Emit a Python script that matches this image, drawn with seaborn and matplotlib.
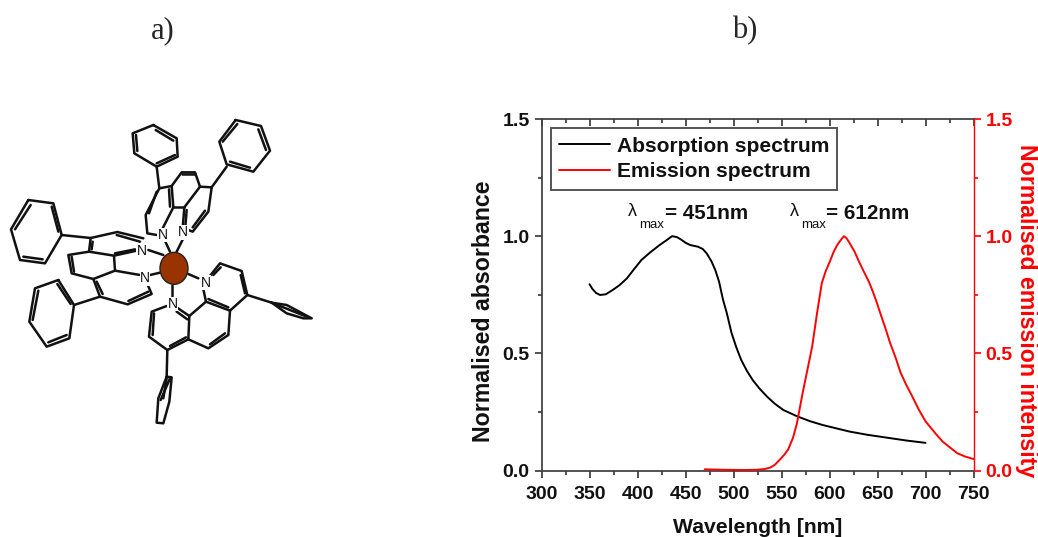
import matplotlib
matplotlib.use("Agg")
import matplotlib.pyplot as plt
from matplotlib.patches import Ellipse
from matplotlib.ticker import MultipleLocator
import pandas as pd
import seaborn as sns

abs_wave = [350, 353, 357, 361, 367, 374, 381, 389, 396, 404, 413, 423, 430, 436, 441, 446, 450, 455, 463, 468, 472,
            477, 481, 485, 489, 493, 498, 503, 508, 514, 520, 527, 535, 543, 552, 567, 580, 593, 607, 621, 640,
            660, 680, 700]
abs_val = [0.795, 0.775, 0.757, 0.749, 0.752, 0.77, 0.79, 0.82, 0.857, 0.898, 0.93, 0.962, 0.982, 1.0, 0.996, 0.984,
           0.972, 0.962, 0.955, 0.945, 0.927, 0.893, 0.856, 0.805, 0.73, 0.672, 0.586, 0.525, 0.472, 0.425, 0.386,
           0.35, 0.315, 0.285, 0.258, 0.23, 0.21, 0.194, 0.18, 0.166, 0.152, 0.14, 0.128, 0.118]
em_wave = [470, 490, 510, 524, 532, 538, 543, 548, 553, 557, 562, 566, 572, 577, 582, 587, 592, 596, 601, 604, 608,
           612, 615, 618, 621, 626, 630, 635, 641, 645, 649, 653, 658, 663, 669, 674, 680, 686, 693, 700, 705,
           711, 718, 725, 733, 741, 750]
em_val = [0.005, 0.003, 0.002, 0.003, 0.006, 0.012, 0.024, 0.045, 0.068, 0.09, 0.14, 0.2, 0.33, 0.43, 0.53, 0.671,
          0.80, 0.85, 0.898, 0.93, 0.962, 0.985, 1.0, 0.99, 0.97, 0.935, 0.898, 0.855, 0.806, 0.765, 0.72, 0.67,
          0.61, 0.546, 0.48, 0.418, 0.365, 0.318, 0.26, 0.21, 0.185, 0.155, 0.123, 0.1, 0.074, 0.06, 0.049]

# molecule drawing, polylines (zoom pixels)
rings = [
    [(460, 75), (530, 115), (533, 170), (470, 200), (403, 160), (398, 100), (460, 75)],
    [(707, 60), (783, 78), (810, 152), (760, 215), (680, 193), (658, 125), (707, 60)],
    [(470, 200), (478, 265), (515, 258), (520, 322), (488, 385)],
    [(470, 405), (442, 400), (437, 345), (478, 265)],
    [(680, 200), (635, 262), (625, 335), (578, 395), (565, 390)],
    [(515, 258), (545, 217), (585, 217), (600, 260), (635, 262)],
    [(600, 260), (553, 322), (548, 385)],
    [(520, 322), (553, 322)],
    [(430, 415), (352, 396), (272, 414), (267, 455), (342, 467), (410, 452)],
    [(267, 455), (205, 465), (215, 520), (280, 537), (345, 512), (342, 467)],
    [(280, 537), (300, 590), (383, 613), (455, 582), (442, 552)],
    [(345, 512), (420, 525)],
    [(85, 300), (160, 310), (185, 405), (135, 490), (60, 480), (33, 388), (85, 300)],
    [(185, 405), (272, 414)],
    [(175, 540), (222, 615), (208, 715), (140, 740), (88, 665), (105, 565), (175, 540)],
    [(222, 615), (300, 590)],
    [(628, 530), (660, 490), (725, 513), (742, 585), (690, 632), (618, 605), (610, 568)],
    [(618, 605), (568, 648), (565, 718), (625, 745), (685, 705), (690, 632)],
    [(530, 622), (568, 648)],
    [(500, 618), (455, 635), (447, 710), (502, 750), (565, 718)],
    [(742, 585), (815, 608), (860, 615), (935, 655), (910, 655), (860, 640), (815, 608)],
    [(502, 750), (500, 830), (515, 832), (508, 905), (490, 970), (470, 968), (475, 895), (500, 830)],
    [(490, 412), (510, 455)],
    [(550, 415), (530, 455)],
    [(445, 450), (490, 465)],
    [(450, 525), (480, 518)],
    [(515, 555), (515, 595)],
    [(565, 522), (595, 535)],
]
double_bonds = [
    [(467, 90), (520, 122)], [(412, 153), (408, 105)], [(470, 190), (525, 165)],
    [(775, 88), (798, 150)], [(750, 203), (690, 185)], [(668, 125), (712, 72)],
    [(470, 275), (447, 340)], [(507, 268), (510, 320)], [(560, 330), (556, 380)], [(615, 332), (578, 382)],
    [(545, 222), (585, 222)], [(350, 405), (420, 425)], [(278, 425), (275, 448)], [(345, 460), (405, 448)],
    [(215, 470), (222, 515)], [(290, 545), (308, 582)], [(385, 603), (445, 575)],
    [(155, 320), (175, 395)], [(128, 478), (70, 470)], [(45, 388), (92, 315)],
    [(172, 552), (212, 612)], [(200, 705), (145, 727)], [(98, 660), (115, 572)],
    [(640, 525), (662, 502)], [(722, 525), (735, 580)], [(685, 622), (625, 597)], [(630, 733), (675, 700)],
    [(462, 640), (458, 705)], [(510, 738), (558, 712)], [(530, 635), (562, 658)],
    [(825, 612), (915, 648)], [(490, 895), (500, 835)], [(482, 900), (510, 835)],
]
n_labels = [(488, 405), (550, 397), (425, 452), (435, 535), (618, 548), (518, 612)]

sns.set_style("white")
plt.rcParams["font.family"] = ["Liberation Sans", "DejaVu Sans"]
plt.rcParams["font.weight"] = "bold"

W, H = 1038, 537
fig = plt.figure(figsize=(W / 100, H / 100), dpi=100)

fig.text(163 / W, 1 - 31 / H, "a)", family="Liberation Serif", fontsize=22, weight="normal", ha="center", va="center")
fig.text(745 / W, 1 - 31 / H, "b)", family="Liberation Serif", fontsize=22, weight="normal", ha="center", va="center")

# molecule
mol = fig.add_axes([0, 1 - 440 / H, 330 / W, 340 / H])
mol.set_xlim(0, 990)
mol.set_ylim(1020, 0)
mol.axis("off")
for line in rings + double_bonds:
    mol.plot([p[0] for p in line], [p[1] for p in line], color="#111111", lw=1.8, solid_capstyle="round")
for x, y in n_labels:
    mol.text(x, y, "N", fontsize=10, weight="normal", ha="center", va="center", color="#111111",
             bbox=dict(fc="white", ec="none", pad=0.2), zorder=3)
mol.add_patch(Ellipse((522, 505), 84, 96, fc="#993300", ec="#222222", lw=1, zorder=4))

# spectrum
left, right, top, bottom = 541.5, 973.5, 119, 470.5
ax = fig.add_axes([left / W, 1 - bottom / H, (right - left) / W, (bottom - top) / H])
df_abs = pd.DataFrame({"wave": abs_wave, "val": abs_val})
df_em = pd.DataFrame({"wave": em_wave, "val": em_val})
sns.lineplot(data=df_abs, x="wave", y="val", ax=ax, color="black", lw=1.4, legend=False)
ax.set_xlim(300, 750)
ax.set_ylim(0, 1.5)
ax.xaxis.set_major_locator(MultipleLocator(50))
ax.xaxis.set_minor_locator(MultipleLocator(25))
ax.yaxis.set_major_locator(MultipleLocator(0.5))
ax.yaxis.set_minor_locator(MultipleLocator(0.25))
ax.tick_params(which="major", axis="both", direction="out", length=5, width=1.2, labelsize=14, pad=3.5,
               color="#333333", labelcolor="#111111", left=True, bottom=True)
ax.tick_params(which="major", axis="x", pad=6)
ax.tick_params(which="minor", axis="both", direction="out", length=3, width=1.2, color="#333333", left=True, bottom=True)
ax.set_ylabel("Normalised absorbance", fontsize=16.7, weight="bold", labelpad=5, color="#111111", y=0.454)
for name in ["left", "bottom", "top"]:
    ax.spines[name].set_color("#444444")
    ax.spines[name].set_linewidth(1.3)
ax.spines["right"].set_visible(False)

# ticks hanging from the top frame
top_ax = ax.secondary_xaxis("top")
top_ax.xaxis.set_major_locator(MultipleLocator(50))
top_ax.xaxis.set_minor_locator(MultipleLocator(25))
top_ax.tick_params(which="major", direction="in", length=5, width=1.2, color="#333333", labeltop=False)
top_ax.tick_params(which="minor", direction="in", length=3, width=1.2, color="#333333")
top_ax.spines["top"].set_visible(False)

ax2 = ax.twinx()
sns.lineplot(data=df_em, x="wave", y="val", ax=ax2, color="red", lw=1.4, legend=False)
ax2.set_ylim(0, 1.5)
ax2.yaxis.set_major_locator(MultipleLocator(0.5))
ax2.yaxis.set_minor_locator(MultipleLocator(0.25))
ax2.tick_params(which="major", axis="y", direction="out", length=5, width=1.2, colors="red", labelsize=14, pad=3.5, right=True)
ax2.tick_params(which="minor", axis="y", direction="out", length=3, width=1.2, colors="red", right=True)
ax2.set_ylabel("Normalised emission intensity", fontsize=16.7, weight="bold", color="red", rotation=270, labelpad=18, y=0.454)
ax2.set_xlabel("")
for name in ["left", "bottom", "top"]:
    ax2.spines[name].set_visible(False)
ax2.spines["right"].set_color("red")
ax2.spines["right"].set_linewidth(1)
ax.set_xlabel("Wavelength [nm]", fontsize=15.2, weight="bold", labelpad=11, color="#111111")

handles = ax.get_lines()[:1] + ax2.get_lines()[:1]
leg = ax2.legend(handles, ["Absorption spectrum", "Emission spectrum"], loc="upper left",
                 bbox_to_anchor=(0.022, 0.974), fontsize=15.1, frameon=True, fancybox=False, edgecolor="#555555",
                 framealpha=1, borderpad=0.4, handlelength=2.43, labelspacing=0.33, borderaxespad=0, handletextpad=0.3)
leg.get_frame().set_linewidth(1.4)
for t in leg.get_texts():
    t.set_color("#111111")

fig.text(628 / W, 1 - 212 / H, "\u03bb", fontsize=13, weight="normal", va="center", color="#111111")
fig.text(639 / W, 1 - 224.5 / H, "max", fontsize=9.5, weight="normal", va="center", color="#111111")
fig.text(665 / W, 1 - 213.5 / H, "= 451nm", fontsize=14.9, va="center", color="#111111")
fig.text(790 / W, 1 - 212 / H, "\u03bb", fontsize=13, weight="normal", va="center", color="#111111")
fig.text(801 / W, 1 - 224.5 / H, "max", fontsize=9.5, weight="normal", va="center", color="#111111")
fig.text(826 / W, 1 - 213.5 / H, "= 612nm", fontsize=14.9, va="center", color="#111111")

fig.savefig("out.png", dpi=100)
